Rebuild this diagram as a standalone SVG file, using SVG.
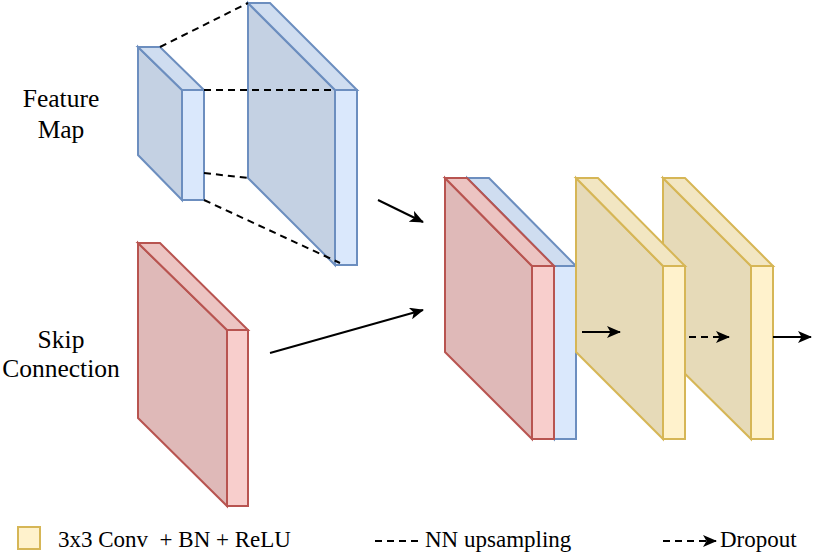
<svg xmlns="http://www.w3.org/2000/svg" width="831" height="557" viewBox="0 0 831 557">
<style>
text{font-family:"Liberation Serif","Times New Roman",serif !important}
.b path,.b rect{stroke:#6c8ebf;stroke-width:2}
.r path,.r rect{stroke:#b85450;stroke-width:2}
.y path,.y rect{stroke:#d6b656;stroke-width:2}
.b .s{fill:#c4d1e3}.b .tp{fill:#cfddf0}.b .f{fill:#dae8fc}
.r .s{fill:#dfb9b8}.r .tp{fill:#ecc4c2}.r .f{fill:#f8cecc}
.y .s{fill:#e6dab8}.y .tp{fill:#f2e6c2}.y .f{fill:#fff2cc}
.dash{stroke:#000;stroke-width:2;fill:none;stroke-dasharray:7 5}
.arr{stroke:#000;stroke-width:2;fill:none;marker-end:url(#ah)}
</style>
<defs>
<marker id="ah" markerUnits="userSpaceOnUse" viewBox="0 0 14 12" refX="13" refY="6" markerWidth="14" markerHeight="12" orient="auto">
<path d="M0,0 L14,6 L0,12 L3.5,6 Z" fill="#000"/>
</marker>
</defs>
<rect width="831" height="557" fill="#fff"/>

<g id="feature-map-small" class="b">
<path class="s" d="M138,47 L182,90 L182,200 L138,155 Z"/>
<path class="tp" d="M138,47 L160,47 L204,90 L182,90 Z"/>
<rect class="f" x="182" y="90" width="22" height="110"/>
</g>
<g id="feature-map-large" class="b">
<path class="s" d="M248,3 L335,90 L335,265 L248,178 Z"/>
<path class="tp" d="M248,3 L270,3 L357,90 L335,90 Z"/>
<rect class="f" x="335" y="90" width="22" height="175"/>
</g>
<g id="skip" class="r">
<path class="s" d="M138,243 L227,330 L227,506 L138,418 Z"/>
<path class="tp" d="M138,243 L160,243 L248,330 L227,330 Z"/>
<rect class="f" x="227" y="330" width="21" height="176"/>
</g>
<g id="concat-blue" class="b">
<path class="s" d="M467,178 L554,266 L554,439 L467,352 Z"/>
<path class="tp" d="M467,178 L489,178 L576,266 L554,266 Z"/>
<rect class="f" x="554" y="266" width="22" height="173"/>
</g>
<g id="concat-red" class="r">
<path class="s" d="M445,178 L532,266 L532,439 L445,352 Z"/>
<path class="tp" d="M445,178 L467,178 L554,266 L532,266 Z"/>
<rect class="f" x="532" y="266" width="22" height="173"/>
</g>
<g id="conv2" class="y">
<path class="s" d="M663,178 L751,266 L751,439 L663,352 Z"/>
<path class="tp" d="M663,178 L685,178 L773,266 L751,266 Z"/>
<rect class="f" x="751" y="266" width="22" height="173"/>
</g>
<g id="conv1" class="y">
<path class="s" d="M576,178 L663,266 L663,439 L576,352 Z"/>
<path class="tp" d="M576,178 L598,178 L685,266 L663,266 Z"/>
<rect class="f" x="663" y="266" width="22" height="173"/>
</g>

<g id="connectors">
<line class="dash" x1="160" y1="47" x2="248" y2="3"/>
<line class="dash" x1="204" y1="90" x2="335" y2="90"/>
<line class="dash" x1="204" y1="173" x2="248" y2="178"/>
<line class="dash" x1="204" y1="200" x2="340" y2="263"/>
<line class="arr" x1="378" y1="200" x2="423" y2="222"/>
<line class="arr" x1="270" y1="353" x2="423" y2="310"/>
<line class="arr" x1="582" y1="332" x2="620" y2="332"/>
<line class="arr" x1="689" y1="337" x2="729" y2="337" stroke-dasharray="7 5"/>
<line class="arr" x1="773" y1="337" x2="811" y2="337"/>
</g>

<g id="labels">
<text x="61" y="107" style="font-family:'Liberation Serif',serif;font-size:25.5px" text-anchor="middle" fill="#000">Feature</text>
<text x="61" y="138" style="font-family:'Liberation Serif',serif;font-size:25.5px" text-anchor="middle" fill="#000">Map</text>
<text x="61" y="348" style="font-family:'Liberation Serif',serif;font-size:25.5px" text-anchor="middle" fill="#000">Skip</text>
<text x="61" y="377" style="font-family:'Liberation Serif',serif;font-size:25.5px" text-anchor="middle" fill="#000">Connection</text>
</g>

<g id="legend">
<rect x="18" y="527" width="22" height="22" fill="#fff2cc" stroke="#d6b656" stroke-width="2"/>
<text x="58" y="547" style="font-family:'Liberation Serif',serif;font-size:23px" fill="#000" xml:space="preserve">3x3 Conv  + BN + ReLU</text>
<line class="dash" x1="375" y1="541" x2="418" y2="541"/>
<text x="425" y="547" style="font-family:'Liberation Serif',serif;font-size:23px" fill="#000">NN upsampling</text>
<line class="arr" x1="663" y1="541" x2="716" y2="541" stroke-dasharray="7 5"/>
<text x="720" y="547" style="font-family:'Liberation Serif',serif;font-size:23px" fill="#000">Dropout</text>
</g>
</svg>
